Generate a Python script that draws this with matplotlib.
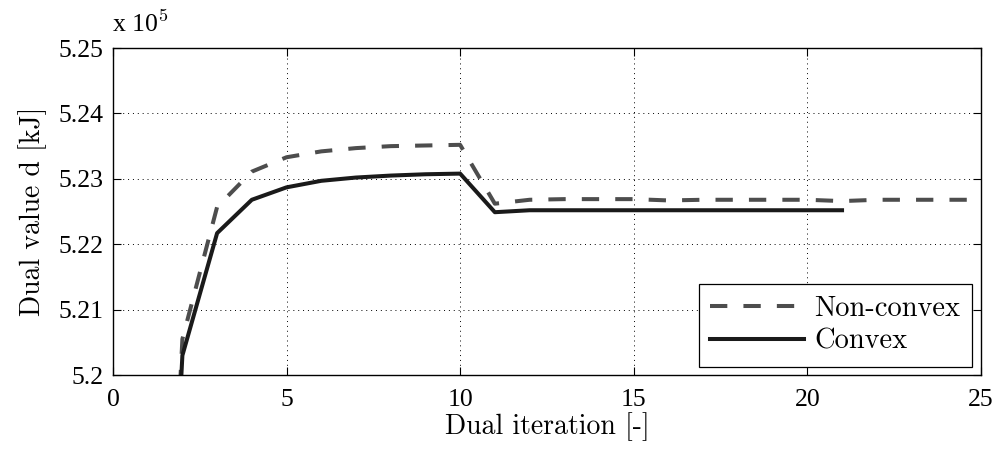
import matplotlib
matplotlib.use("Agg")
import matplotlib.pyplot as plt

# Data (values in units of 1e5 kJ)
it_nc = [1, 2, 3, 4, 5, 6, 7, 8, 9, 10, 11, 12, 13, 14, 15, 16, 17, 18, 19, 20, 21, 22, 23, 24, 25]
d_nc = [5.10, 5.2055, 5.2257, 5.2311, 5.2333, 5.2342, 5.2347, 5.2350, 5.2351, 5.2352,
        5.2262, 5.2268, 5.2269, 5.2269, 5.2269, 5.2267, 5.2268, 5.2268, 5.2268, 5.2268,
        5.2266, 5.2268, 5.2268, 5.2268, 5.2268]
it_c = [1, 2, 3, 4, 5, 6, 7, 8, 9, 10, 11, 12, 13, 14, 15, 16, 17, 18, 19, 20, 21]
d_c = [5.10, 5.2030, 5.2217, 5.2268, 5.2287, 5.2297, 5.2302, 5.2305, 5.2307, 5.2308,
       5.2249, 5.2252, 5.2252, 5.2252, 5.2252, 5.2252, 5.2252, 5.2252, 5.2252, 5.2252, 5.2252]
xticks = [0, 5, 10, 15, 20, 25]
yticks = [5.20, 5.21, 5.22, 5.23, 5.24, 5.25]
ytick_labels = ["5.2", "5.21", "5.22", "5.23", "5.24", "5.25"]

plt.rcParams['mathtext.fontset'] = 'cm'
tickfont = {'family': 'Liberation Serif', 'size': 18.5}
labfont = {'family': 'cmr10', 'size': 20}

fig = plt.figure(figsize=(10.04, 4.53), dpi=100)
ax = fig.add_axes([0.1125, 0.172, 0.8645, 0.722])

ax.plot(it_nc, d_nc, color='#4d4d4d', lw=2.9, dashes=(4.3, 4.0), label='Non-convex')
ax.plot(it_c, d_c, color='#1a1a1a', lw=2.9, label='Convex')

ax.set_xlim(0, 25)
ax.set_ylim(5.20, 5.25)
ax.set_xticks(xticks)
ax.set_xticklabels([str(t) for t in xticks], fontdict=tickfont)
ax.set_yticks(yticks)
ax.set_yticklabels(ytick_labels, fontdict=tickfont)
ax.tick_params(axis='x', direction='in', top=True, length=6, width=0.8, pad=10)
ax.tick_params(axis='y', direction='in', right=True, length=6, width=0.8, pad=7)
ax.grid(True, linestyle=(0, (1, 4)), color='black', linewidth=0.7)
for s in ax.spines.values():
    s.set_linewidth(1.0)

ax.set_xlabel('Dual iteration [-]', fontdict=labfont, labelpad=1)
ax.set_ylabel('Dual value d [kJ]', fontdict=labfont, labelpad=8)
fig.text(0.1115, 0.918, r'x 10$^{5}$', fontsize=18.5, family='Liberation Serif', va='bottom', ha='left')

leg = ax.legend(loc='lower right', prop={'family': 'cmr10', 'size': 20.5},
                fancybox=False, edgecolor='black', framealpha=1,
                handlelength=3.3, borderaxespad=0.3, labelspacing=0.22,
                handletextpad=0.35, borderpad=0.42)
leg.get_frame().set_linewidth(0.9)

fig.savefig('out.png', dpi=100)
